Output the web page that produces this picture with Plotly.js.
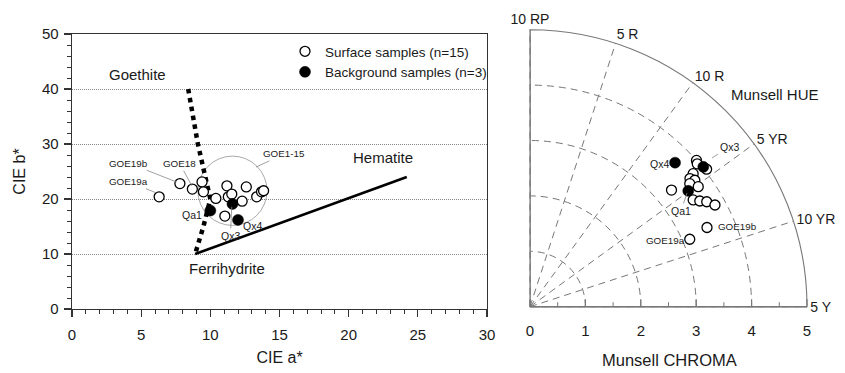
<!DOCTYPE html>
<html><head><meta charset="utf-8">
<script src="https://cdn.plot.ly/plotly-3.0.1.min.js"></script>
<style>html,body{margin:0;padding:0;background:#fff}</style>
</head><body><div id="chart" style="width:845px;height:373px"></div>
<script>
// ---- Left panel: CIE a* / b* ----
const surfaceA = [6.3, 7.8, 8.7, 9.4, 9.5, 10.4, 11.2, 11.3, 11.55, 12.3, 12.6, 13.35, 13.7, 13.85, 11.05];
const surfaceB = [20.4, 22.8, 21.8, 23.1, 21.3, 20.1, 22.4, 20.4, 20.9, 19.6, 22.2, 20.4, 21.3, 21.5, 16.9];
const backgroundNames = ['Qa1', 'Qx3', 'Qx4'];
const backgroundA = [10.0, 11.6, 12.0];
const backgroundB = [17.9, 19.1, 16.2];
const goethiteA = [8.4, 9.1, 10.0, 9.5, 8.9];
const goethiteB = [40, 30, 20, 15, 10];
const hematiteA = [8.9, 24.2];
const hematiteB = [10, 24.0];

// ---- Right panel: Munsell chroma / hue (angle, 0 = 5 Y, 90 = 10 RP) ----
const hueTickAngles = [0, 18, 36, 54, 72, 90];
const hueTickLabels = ['5 Y', '10 YR', '5 YR', '10 R', '5 R', '10 RP'];
const chromaTicks = [0, 1, 2, 3, 4, 5];
const chromaMinorTicks = [0.5, 1.5, 2.5, 3.5, 4.5];
const surfaceChroma = [4.00, 4.04, 3.80, 3.70, 3.75, 3.64, 3.73, 3.31, 3.52, 3.61, 3.71, 3.81, 3.50, 3.13, 3.97];
const surfaceHue    = [41.3, 37.9, 39.2, 38.7, 37.5, 37.6, 35.5, 39.5, 33.2, 31.9, 30.7, 28.8, 24.1, 22.9, 40.5];
const backgroundChroma = [3.54, 4.02, 3.69];
const backgroundHue    = [36.2, 38.9, 44.8];

const FONT = 'Liberation Sans, Arial, sans-serif';
const INK = '#1a1a1a';
const GRID = '#777';

const openMarker = {symbol: 'circle', size: 10, color: 'white', line: {color: 'black', width: 1.3}};
const fullMarker = {symbol: 'circle', size: 11, color: 'black', line: {color: 'black', width: 0.5}};

const traces = [
  {type: 'scatter', x: goethiteA, y: goethiteB, mode: 'lines', line: {color: 'black', width: 4.5, dash: '4.5px,4.5px'}, showlegend: false, hoverinfo: 'skip'},
  {type: 'scatter', x: hematiteA, y: hematiteB, mode: 'lines', line: {color: 'black', width: 2.6}, showlegend: false, hoverinfo: 'skip'},
  {type: 'scatter', x: surfaceA, y: surfaceB, mode: 'markers', marker: openMarker, name: 'Surface samples (n=15)'},
  {type: 'scatter', x: backgroundA, y: backgroundB, text: backgroundNames, mode: 'markers', marker: fullMarker, name: 'Background samples (n=3)'},
  // right panel
  {type: 'scatterpolar', subplot: 'polar', r: [0, 5], theta: [90, 90], mode: 'lines', line: {color: GRID, width: 1.3}, showlegend: false, hoverinfo: 'skip'},
  {type: 'scatterpolar', subplot: 'polar', r: surfaceChroma, theta: surfaceHue, mode: 'markers', marker: openMarker, showlegend: false},
  {type: 'scatterpolar', subplot: 'polar', r: backgroundChroma, theta: backgroundHue, text: backgroundNames, mode: 'markers', marker: fullMarker, showlegend: false},
  {type: 'scatterpolar', subplot: 'polar2', r: [0], theta: [0], mode: 'markers', marker: {opacity: 0}, showlegend: false, hoverinfo: 'skip'},
  {type: 'scatterpolar', subplot: 'polar3', r: [0], theta: [0], mode: 'markers', marker: {opacity: 0}, showlegend: false, hoverinfo: 'skip'}
];

function lab(text, x, y, tx, ty, size) {
  const a = {text: text, x: tx, y: ty, xref: 'x', yref: 'y', xanchor: 'center', yanchor: 'middle', showarrow: false, font: {size: size || 9.8, color: INK}};
  if (x !== null) {
    Object.assign(a, {x: x, y: y, ax: tx, ay: ty, axref: 'x', ayref: 'y', showarrow: true, arrowhead: 0, arrowwidth: 0.8, arrowcolor: '#888', standoff: 0});
  }
  return a;
}
function plab(text, tx, ty, x, y, size) {
  const a = {text: text, x: tx / 845, y: 1 - ty / 373, xref: 'paper', yref: 'paper', xanchor: 'center', yanchor: 'middle', showarrow: false, font: {size: size || 9.8, color: INK}};
  if (x !== undefined && x !== null) {
    Object.assign(a, {x: x / 845, y: 1 - y / 373, ax: tx / 845, ay: 1 - ty / 373, axref: 'paper', ayref: 'paper', showarrow: true, arrowhead: 0, arrowwidth: 0.8, arrowcolor: '#888', standoff: 0});
  }
  return a;
}

const annotations = [
  lab('GOE19a', 6.1, 21.1, 4.12, 23.15),
  lab('GOE19b', 7.55, 23.1, 4.12, 26.5),
  lab('GOE18', 8.66, 22.4, 7.8, 26.4),
  lab('GOE1-15', 13.3, 25.8, 15.35, 28.2),
  lab('Qa1', null, null, 8.7, 17.1, 10.5),
  lab('Qx3', 11.55, 18.6, 11.45, 13.3, 10.5),
  lab('Qx4', null, null, 13.05, 15.1, 10.5),
  lab('Goethite', null, null, 4.7, 42.6, 15),
  lab('Hematite', null, null, 22.5, 27.6, 15),
  lab('Ferrihydrite', null, null, 11.2, 7.4, 15),
  plab('Qx4', 659, 164, null, null, 10.5),
  plab('Qx3', 729, 147, 712, 158, 10.5),
  plab('Qa1', 681, 211, 687, 193, 10.5),
  plab('GOE19b', 737, 227),
  plab('GOE19a', 665, 240),
  plab('Munsell HUE', 775, 95, null, null, 15),
  plab('Munsell CHROMA', 669, 360, null, null, 16.5)
];

const polarDomain = {x: [530 / 845, 807 / 845], y: [1 - 306.7 / 373, 1 - 29.7 / 373]};

const layout = {
  width: 845, height: 373,
  margin: {l: 0, r: 0, t: 0, b: 0},
  paper_bgcolor: 'white', plot_bgcolor: 'white',
  font: {family: FONT, color: INK, size: 15},
  showlegend: true,
  legend: {x: 285 / 845, y: 1 - 36 / 373, xanchor: 'left', yanchor: 'top', bgcolor: 'rgba(0,0,0,0)', font: {size: 13.5, color: INK}, tracegroupgap: 0},
  xaxis: {
    domain: [72 / 845, 487 / 845], range: [0, 30], dtick: 5, tick0: 0,
    showgrid: false, zeroline: false, showline: true, linecolor: '#333', linewidth: 1.3, mirror: true,
    ticks: 'outside', ticklen: 7, tickcolor: '#333', tickwidth: 1.2, ticklabelstandoff: 5,
    minor: {dtick: 1, ticks: 'outside', ticklen: 4, tickcolor: '#333', tickwidth: 1, showgrid: false},
    tickfont: {size: 15, color: INK},
    title: {text: 'CIE a*', font: {size: 16, color: INK}, standoff: 9}
  },
  yaxis: {
    domain: [1 - 309 / 373, 1 - 34 / 373], range: [0, 50], dtick: 10, tick0: 0,
    showgrid: true, gridcolor: '#888', griddash: '1px,1px', gridwidth: 1,
    zeroline: false, showline: true, linecolor: '#333', linewidth: 1.3, mirror: true,
    ticks: 'outside', ticklen: 7, tickcolor: '#333', tickwidth: 1.2, ticklabelstandoff: 2,
    minor: {dtick: 2, ticks: 'outside', ticklen: 4, tickcolor: '#333', tickwidth: 1, showgrid: false},
    tickfont: {size: 15, color: INK},
    title: {text: 'CIE b*', font: {size: 16, color: INK}, standoff: 12}
  },
  polar: {
    domain: polarDomain,
    sector: [0, 90], bgcolor: 'white', hole: 0,
    radialaxis: {
      range: [0, 5], angle: 0, side: 'clockwise', tickmode: 'array', tickvals: chromaTicks,
      ticks: 'outside', ticklen: 11, tickcolor: 'rgba(0,0,0,0)',
      showline: true, linecolor: GRID, linewidth: 1.4,
      showgrid: true, gridcolor: GRID, griddash: '7px,5px', gridwidth: 1,
      tickfont: {size: 15, color: INK}
    },
    angularaxis: {
      direction: 'counterclockwise', rotation: 0, thetaunit: 'degrees',
      tickmode: 'array', tickvals: hueTickAngles, ticktext: hueTickLabels, ticks: '',
      showline: true, linecolor: GRID, linewidth: 1.1,
      showgrid: true, gridcolor: GRID, griddash: '7px,5px', gridwidth: 1,
      tickfont: {size: 14, color: INK}
    }
  },
  polar2: {
    domain: polarDomain, sector: [0, 90], bgcolor: 'rgba(0,0,0,0)',
    radialaxis: {range: [0, 5], angle: 0, side: 'clockwise', tickmode: 'array', tickvals: chromaMinorTicks,
      ticks: 'inside', ticklen: 4, tickcolor: GRID, tickwidth: 1, showticklabels: false, showgrid: false, showline: false},
    angularaxis: {visible: false, showgrid: false, showline: false, ticks: '', showticklabels: false}
  },
  polar3: {
    domain: polarDomain, sector: [0, 90], bgcolor: 'rgba(0,0,0,0)',
    radialaxis: {range: [0, 5], angle: 0, side: 'clockwise', tickmode: 'array', tickvals: chromaTicks,
      ticks: 'inside', ticklen: 7, tickcolor: GRID, tickwidth: 1.2, showticklabels: false, showgrid: false, showline: false},
    angularaxis: {visible: false, showgrid: false, showline: false, ticks: '', showticklabels: false}
  },
  shapes: [
    {type: 'circle', xref: 'x', yref: 'y', x0: 9.1, x1: 14.1, y0: 15.2, y1: 27.8, line: {color: '#aaa', width: 1}, layer: 'below'}
  ],
  annotations: annotations
};

Plotly.newPlot('chart', traces, layout, {displayModeBar: false, staticPlot: true});
</script>
</body></html>
